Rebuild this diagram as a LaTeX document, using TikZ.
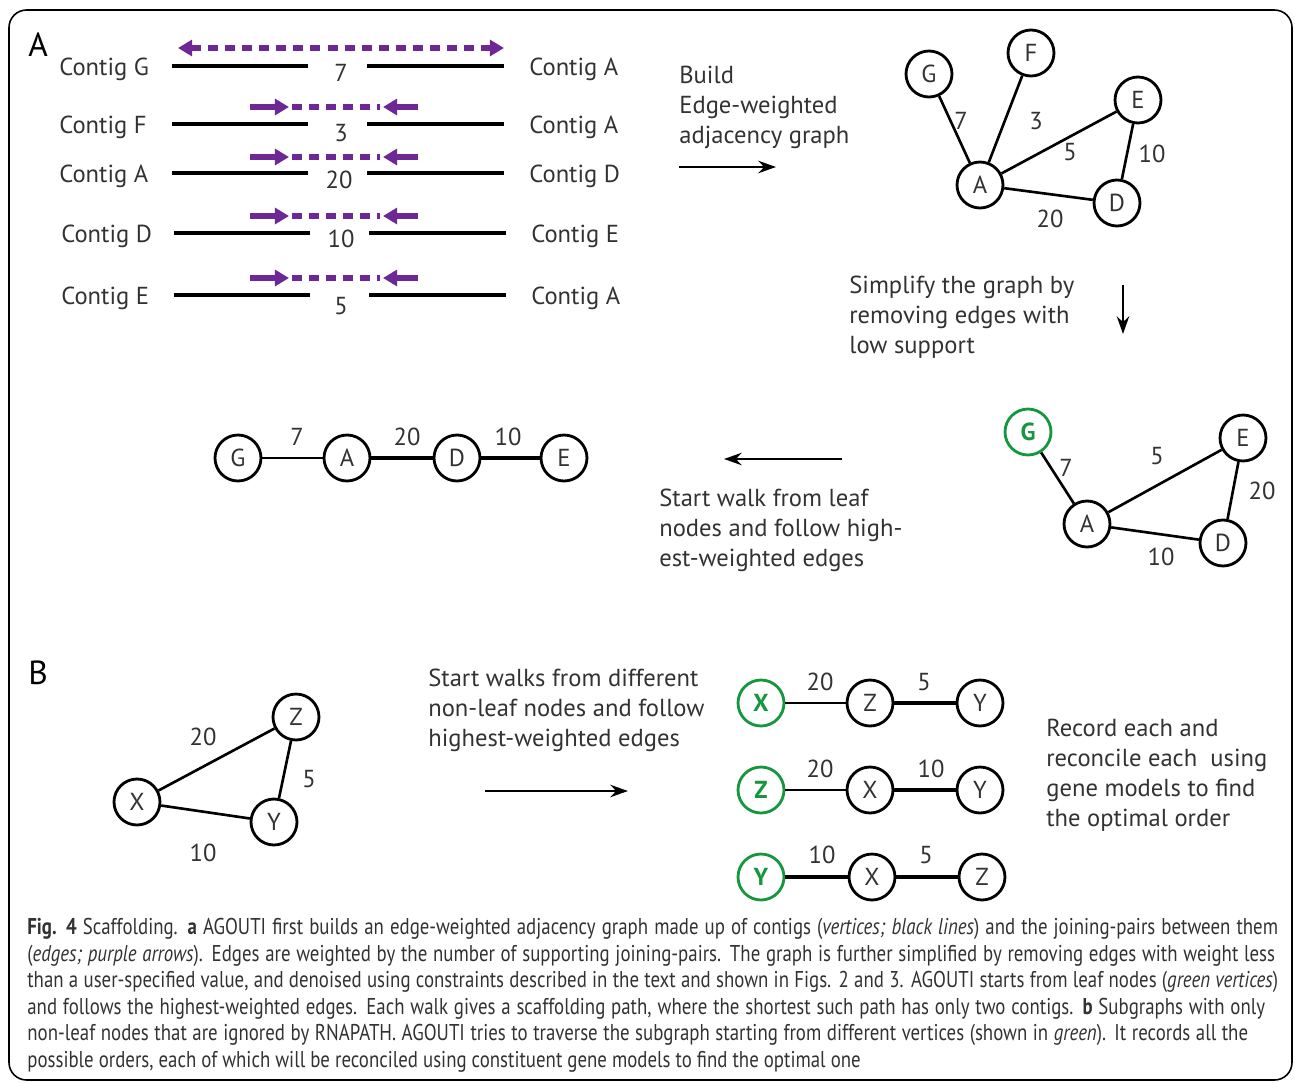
\documentclass[tikz,border=0pt]{standalone}
\usepackage{fontspec}
\setmainfont{PT Sans}
\newfontfamily\capfont[FakeStretch=0.825]{PT Sans}
\usetikzlibrary{arrows.meta}

\definecolor{walkgreen}{RGB}{22,150,62}
\definecolor{pairpurple}{RGB}{110,40,150}
\definecolor{inkgray}{RGB}{50,50,50}
\newcommand{\capline}[2]{\makebox[#1][s]{#2}}

\begin{document}
\begin{tikzpicture}[x=0.02cm, y=-0.02cm,
    vtx/.style={draw=black, circle, line width=1.6pt, minimum size=0.92cm, inner sep=0pt, text=inkgray, font=\fontsize{14}{14}\selectfont},
    leaf/.style={vtx, draw=walkgreen, text=walkgreen, font=\fontsize{14}{14}\selectfont\bfseries},
    num/.style={text=inkgray, inner sep=0pt, font=\fontsize{14}{14}\selectfont},
    tag/.style={text=inkgray, inner sep=0pt, anchor=base west, font=\fontsize{14}{14}\selectfont},
    note/.style={text=inkgray, inner sep=0pt, anchor=north west, align=left, font=\fontsize{14}{17}\selectfont},
    panel/.style={inner sep=0pt, anchor=base west, font=\fontsize{19}{19}\selectfont},
    contig/.style={line width=2pt},
    pair/.style={draw=pairpurple, line width=3.4pt, dash pattern=on 5.7pt off 4pt},
    pairtip/.style={draw=pairpurple, line width=3.4pt, -{Triangle[length=8pt,width=9pt]}},
    move/.style={line width=1.6pt, -{Stealth[length=10pt,width=7pt]}}]

    \useasboundingbox (0,0) rectangle (1295,1082);
    \draw[line width=0.9pt, rounded corners=10pt] (9,10) rectangle (1292,1080);

    % panel A: contigs and joining pairs
    \node[panel] (P_A) at (28,56) {A};

    \node[tag] (L_1) at (59,75) {Contig G};
    \node[tag] (L_2) at (59,133) {Contig F};
    \node[tag] (L_3) at (59,182) {Contig A};
    \node[tag] (L_4) at (61,242) {Contig D};
    \node[tag] (L_5) at (61,304) {Contig E};

    \node[tag] (R_1) at (529,75) {Contig A};
    \node[tag] (R_2) at (529,133) {Contig A};
    \node[tag] (R_3) at (529,182) {Contig D};
    \node[tag] (R_4) at (531,242) {Contig E};
    \node[tag] (R_5) at (531,304) {Contig A};

    \draw[contig] (172,66) -- (308,66);
    \draw[contig] (367,66) -- (504,66);
    \draw[contig] (172,124) -- (308,124);
    \draw[contig] (367,124) -- (504,124);
    \draw[contig] (172,173) -- (308,173);
    \draw[contig] (367,173) -- (504,173);
    \draw[contig, line width=2.6pt] (174,233) -- (310,233);
    \draw[contig, line width=2.6pt] (369,233) -- (506,233);
    \draw[contig] (174,295) -- (310,295);
    \draw[contig] (369,295) -- (506,295);

    \node[num] (n_1) at (341,73) {7};
    \node[num] (n_2) at (341,133) {3};
    \node[num] (n_3) at (339,180) {20};
    \node[num] (n_4) at (341,239) {10};
    \node[num] (n_5) at (341,306) {5};

    \draw[pair, {Triangle[length=8pt,width=9pt]}-{Triangle[length=8pt,width=9pt]}] (178,48) -- (504,48);

    \draw[pairtip] (250,107) -- (289,107);
    \draw[pair] (292,107) -- (380,107);
    \draw[pairtip] (418,107) -- (383,107);
    \draw[pairtip] (250,157) -- (289,157);
    \draw[pair] (292,157) -- (380,157);
    \draw[pairtip] (418,157) -- (383,157);
    \draw[pairtip] (250,216) -- (289,216);
    \draw[pair] (292,216) -- (380,216);
    \draw[pairtip] (418,216) -- (383,216);
    \draw[pairtip] (250,278) -- (289,278);
    \draw[pair] (292,278) -- (380,278);
    \draw[pairtip] (418,278) -- (383,278);

    \node[note] (build) at (679,66) {Build\\Edge-weighted\\adjacency graph};
    \coordinate (build_s) at (679,167);
    \coordinate (build_e) at (776,167);
    \draw[move] (build_s) -- (build_e);

    % adjacency graph
    \node[vtx] (G_1) at (929,74) {G};
    \node[vtx] (F_1) at (1031,53) {F};
    \node[vtx] (E_1) at (1138,100) {E};
    \node[vtx] (A_1) at (980,185) {A};
    \node[vtx] (D_1) at (1117,203) {D};
    \begin{scope}[every edge/.style={draw=black, line width=1.5pt}]
        \path (G_1) edge (A_1);
        \path (F_1) edge (A_1);
        \path (A_1) edge (E_1);
        \path (A_1) edge (D_1);
        \path (E_1) edge (D_1);
    \end{scope}
    \node[num] (w_GA) at (961,121) {7};
    \node[num] (w_FA) at (1036,121) {3};
    \node[num] (w_AE) at (1070,152) {5};
    \node[num] (w_ED) at (1152,154) {10};
    \node[num] (w_AD) at (1050,219) {20};

    \node[note] (simplify) at (849,276) {Simplify the graph by\\removing edges with\\low support};
    \coordinate (simp_s) at (1123,285);
    \coordinate (simp_e) at (1123,334);
    \draw[move] (simp_s) -- (simp_e);

    % simplified graph
    \node[leaf] (G_2) at (1028,432) {G};
    \node[vtx] (E_2) at (1243,438) {E};
    \node[vtx] (A_2) at (1087,524) {A};
    \node[vtx] (D_2) at (1223,543) {D};
    \begin{scope}[every edge/.style={draw=black, line width=1.5pt}]
        \path (G_2) edge (A_2);
        \path (A_2) edge (E_2);
        \path (A_2) edge (D_2);
        \path (E_2) edge (D_2);
    \end{scope}
    \node[num] (v_GA) at (1066,468) {7};
    \node[num] (v_AE) at (1157,456) {5};
    \node[num] (v_ED) at (1262,491) {20};
    \node[num] (v_AD) at (1161,557) {10};

    \coordinate (walk_s) at (842,459);
    \coordinate (walk_e) at (724,459);
    \draw[move] (walk_s) -- (walk_e);
    \node[note] (walk) at (659,489) {Start walk from leaf\\nodes and follow high-\\est-weighted edges};

    % scaffold path
    \node[vtx] (G_3) at (238,458) {G};
    \node[vtx] (A_3) at (347,458) {A};
    \node[vtx] (D_3) at (457,458) {D};
    \node[vtx] (E_3) at (564,458) {E};
    \path (G_3) edge[draw=black, line width=1.1pt] (A_3);
    \path (A_3) edge[draw=black, line width=2.8pt] (D_3);
    \path (D_3) edge[draw=black, line width=2.8pt] (E_3);
    \node[num] (u_GA) at (297,437) {7};
    \node[num] (u_AD) at (407,437) {20};
    \node[num] (u_DE) at (508,437) {10};

    % panel B
    \node[panel] (P_B) at (28,684) {B};

    \node[vtx] (X_1) at (137,802) {X};
    \node[vtx] (Z_1) at (296,717) {Z};
    \node[vtx] (Y_1) at (274,822) {Y};
    \begin{scope}[every edge/.style={draw=black, line width=1.5pt}]
        \path (X_1) edge (Z_1);
        \path (Z_1) edge (Y_1);
        \path (X_1) edge (Y_1);
    \end{scope}
    \node[num] (t_XZ) at (203,737) {20};
    \node[num] (t_ZY) at (309,779) {5};
    \node[num] (t_XY) at (203,853) {10};

    \node[note] (walks) at (428,669) {Start walks from different\\non-leaf nodes and follow\\highest-weighted edges};
    \coordinate (walks_s) at (485,791);
    \coordinate (walks_e) at (628,791);
    \draw[move] (walks_s) -- (walks_e);

    % walks from each vertex
    \node[leaf] (X_2) at (761,703) {X};
    \node[vtx] (Z_2) at (870,703) {Z};
    \node[vtx] (Y_2) at (980,703) {Y};
    \node[leaf] (Z_3) at (761,790) {Z};
    \node[vtx] (X_3) at (870,790) {X};
    \node[vtx] (Y_3) at (980,790) {Y};
    \node[leaf] (Y_4) at (761,877) {Y};
    \node[vtx] (X_4) at (872,877) {X};
    \node[vtx] (Z_4) at (982,877) {Z};
    \path (X_2) edge[draw=black, line width=1.3pt] (Z_2);
    \path (Z_2) edge[draw=black, line width=1.8pt] (Y_2);
    \path (Z_3) edge[draw=black, line width=1.3pt] (X_3);
    \path (X_3) edge[draw=black, line width=2.8pt] (Y_3);
    \path (Y_4) edge[draw=black, line width=1.8pt] (X_4);
    \path (X_4) edge[draw=black, line width=1.8pt] (Z_4);
    \node[num] (s_1) at (820,682) {20};
    \node[num] (s_2) at (924,682) {5};
    \node[num] (s_3) at (820,769) {20};
    \node[num] (s_4) at (931,769) {10};
    \node[num] (s_5) at (822,855) {10};
    \node[num] (s_6) at (926,855) {5};

    \node[note] (record) at (1046,719) {Record each and\\reconcile each\ \ using\\gene models to find\\the optimal order};

    % caption
    \node[text=inkgray, inner sep=0pt, anchor=north west, align=left, font=\capfont\fontsize{13}{15.1}\selectfont] (caption) at (27,918)
        {\capline{25.02cm}{\textbf{Fig. 4} Scaffolding. \textbf{a} AGOUTI first builds an edge-weighted adjacency graph made up of contigs (\textit{vertices; black lines}) and the joining-pairs between them}\\
        \capline{24.96cm}{(\textit{edges; purple arrows}). Edges are weighted by the number of supporting joining-pairs. The graph is further simplified by removing edges with weight less}\\
        \capline{25.02cm}{than a user-specified value, and denoised using constraints described in the text and shown in Figs. 2 and 3. AGOUTI starts from leaf nodes (\textit{green vertices})}\\
        \capline{24.76cm}{and follows the highest-weighted edges. Each walk gives a scaffolding path, where the shortest such path has only two contigs. \textbf{b} Subgraphs with only}\\
        \capline{24.42cm}{non-leaf nodes that are ignored by RNAPATH. AGOUTI tries to traverse the subgraph starting from different vertices (shown in \textit{green}). It records all the}\\
        possible orders, each of which will be reconciled using constituent gene models to find the optimal one};
\end{tikzpicture}
\end{document}
